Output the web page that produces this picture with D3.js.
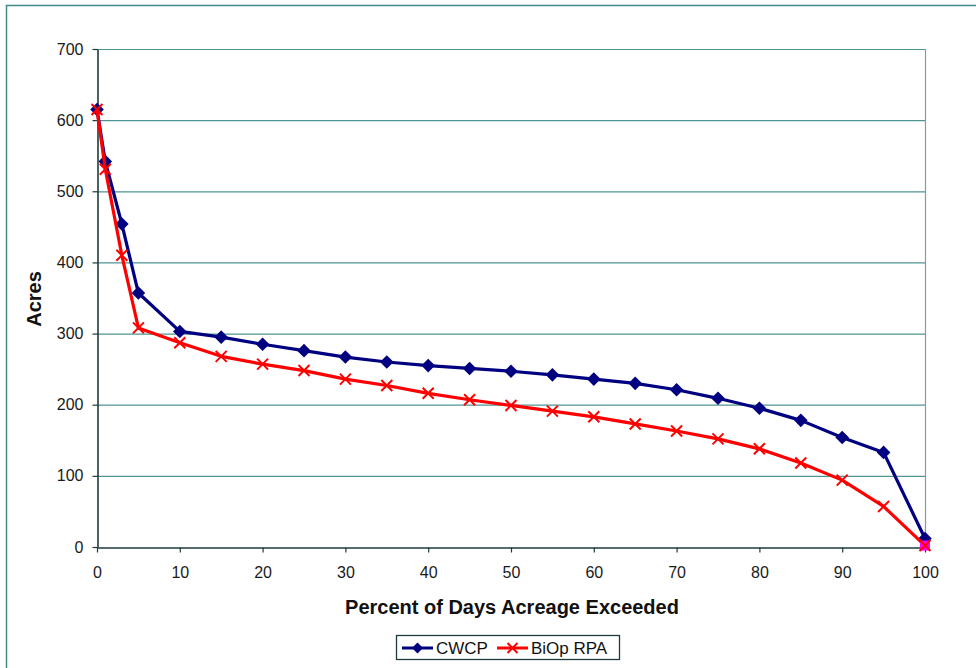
<!DOCTYPE html>
<html>
<head>
<meta charset="utf-8">
<script src="https://cdn.jsdelivr.net/npm/d3@7"></script>
<style>
  html, body { margin: 0; padding: 0; background: #ffffff; }
  svg { display: block; font-family: Arial, "Liberation Sans", sans-serif; }
</style>
</head>
<body>
<svg id="chart" width="976" height="668"></svg>
<script>
// Exceedance percentages (x) shared by both series
const percentExceeded = [0, 1, 3, 5, 10, 15, 20, 25, 30, 35, 40, 45, 50, 55, 60, 65, 70, 75, 80, 85, 90, 95, 100];
// Acreage for each scenario
const cwcpAcres  = [615, 542, 454, 357, 303, 295, 285, 276, 267, 260, 255, 251, 247, 242, 236, 230, 221, 209, 195, 178, 154, 133, 12];
const biopAcres  = [615, 531, 410, 308, 287, 268, 257, 248, 236, 227, 216, 207, 199, 191, 183, 173, 163, 152, 138, 118, 94, 57, 2];
const xTicks = [0, 10, 20, 30, 40, 50, 60, 70, 80, 90, 100];
const yTicks = [0, 100, 200, 300, 400, 500, 600, 700];
const seriesNames = ["CWCP", "BiOp RPA"];

const svg = d3.select("#chart");
const gridColor = "#4f9494";
const axisColor = "#1d3b3b";
const fontStack = "Arial, 'Liberation Sans', sans-serif";

// Outer chart-area frame
svg.append("rect")
  .attr("x", 6.5).attr("y", 5.5)
  .attr("width", 980).attr("height", 680)
  .attr("fill", "none").attr("stroke", "#3f8a8a").attr("stroke-width", 1.5);

const plot = { left: 97, right: 925, top: 49, bottom: 547 };
const x = d3.scaleLinear().domain([0, 100]).range([plot.left, plot.right]);
const y = d3.scaleLinear().domain([0, 700]).range([plot.bottom, plot.top]);

// Horizontal gridlines
svg.append("g").selectAll("line")
  .data(yTicks.filter(d => d > 0))
  .join("line")
  .attr("x1", plot.left).attr("x2", plot.right)
  .attr("y1", d => y(d) + 0.5).attr("y2", d => y(d) + 0.5)
  .attr("stroke", gridColor).attr("stroke-width", 1.2);

// Right edge of the plot area
svg.append("line")
  .attr("x1", plot.right + 0.5).attr("x2", plot.right + 0.5)
  .attr("y1", plot.top).attr("y2", plot.bottom)
  .attr("stroke", "#8a9a9a").attr("stroke-width", 1.2);

// Axes
const xAxis = d3.axisBottom(x).tickValues(xTicks).tickSize(5).tickPadding(14).tickSizeOuter(0);
const yAxis = d3.axisLeft(y).tickValues(yTicks).tickSize(5).tickPadding(9).tickSizeOuter(0);

const gx = svg.append("g").attr("transform", `translate(0,${plot.bottom + 0.5})`).call(xAxis);
const gy = svg.append("g").attr("transform", `translate(${plot.left + 0.5},0)`).call(yAxis);
[gx, gy].forEach(g => {
  g.select(".domain").attr("stroke", axisColor).attr("stroke-width", 1.6);
  g.selectAll(".tick line").attr("stroke", axisColor).attr("stroke-width", 1.2);
  g.selectAll(".tick text")
    .attr("fill", "#1a1a1a").attr("font-size", 16)
    .attr("font-family", fontStack);
});

// Axis titles
svg.append("text")
  .attr("x", 512).attr("y", 614)
  .attr("text-anchor", "middle")
  .attr("font-size", 20).attr("font-weight", "bold").attr("fill", "#111")
  .text("Percent of Days Acreage Exceeded");

svg.append("text")
  .attr("transform", `translate(41,299) rotate(-90)`)
  .attr("text-anchor", "middle")
  .attr("font-size", 20).attr("font-weight", "bold").attr("fill", "#111")
  .text("Acres");

const line = d3.line().x(d => x(d[0])).y(d => y(d[1]));
const cwcp = percentExceeded.map((p, i) => [p, cwcpAcres[i]]);
const biop = percentExceeded.map((p, i) => [p, biopAcres[i]]);

const blue = "#000080";
const red = "#ff0000";

function diamondPath(r) {
  return `M0,${-r}L${r},0L0,${r}L${-r},0Z`;
}
function crossPath(s) {
  return `M${-s},${-s}L${s},${s}M${-s},${s}L${s},${-s}`;
}

// CWCP series
svg.append("path").datum(cwcp)
  .attr("d", line).attr("fill", "none")
  .attr("stroke", blue).attr("stroke-width", 3.2).attr("stroke-linejoin", "round");
svg.append("g").selectAll("path")
  .data(cwcp).join("path")
  .attr("transform", d => `translate(${x(d[0])},${y(d[1])})`)
  .attr("d", diamondPath(6.8)).attr("fill", blue);

// BiOp RPA series
svg.append("path").datum(biop)
  .attr("d", line).attr("fill", "none")
  .attr("stroke", red).attr("stroke-width", 3.2).attr("stroke-linejoin", "round");
// Last point highlighted with a magenta square
const lastB = biop[biop.length - 1];
svg.append("rect")
  .attr("x", x(lastB[0]) - 5).attr("y", y(lastB[1]) - 5)
  .attr("width", 10).attr("height", 10).attr("fill", "#ff00ff");
svg.append("g").selectAll("path")
  .data(biop).join("path")
  .attr("transform", d => `translate(${x(d[0])},${y(d[1])})`)
  .attr("d", crossPath(5.5)).attr("fill", "none")
  .attr("stroke", red).attr("stroke-width", 2);

// Legend
const legend = svg.append("g").attr("transform", "translate(396,635)");
legend.append("rect")
  .attr("x", 0.5).attr("y", 0.5).attr("width", 223).attr("height", 24)
  .attr("fill", "#fff").attr("stroke", "#1d3b3b").attr("stroke-width", 1.3);

const legendItems = [
  { name: seriesNames[0], color: blue, x0: 6, tx: 40, marker: "diamond" },
  { name: seriesNames[1], color: red, x0: 101, tx: 135, marker: "cross" }
];
legendItems.forEach(it => {
  legend.append("line")
    .attr("x1", it.x0).attr("x2", it.x0 + 31)
    .attr("y1", 13).attr("y2", 13)
    .attr("stroke", it.color).attr("stroke-width", 3);
  if (it.marker === "diamond") {
    legend.append("path").attr("transform", `translate(${it.x0 + 15.5},13)`)
      .attr("d", diamondPath(5.5)).attr("fill", it.color);
  } else {
    legend.append("path").attr("transform", `translate(${it.x0 + 15.5},13)`)
      .attr("d", crossPath(5)).attr("stroke", it.color).attr("stroke-width", 2).attr("fill", "none");
  }
  legend.append("text")
    .attr("x", it.tx).attr("y", 19)
    .attr("font-size", 17).attr("fill", "#111")
    .text(it.name);
});
</script>
</body>
</html>
